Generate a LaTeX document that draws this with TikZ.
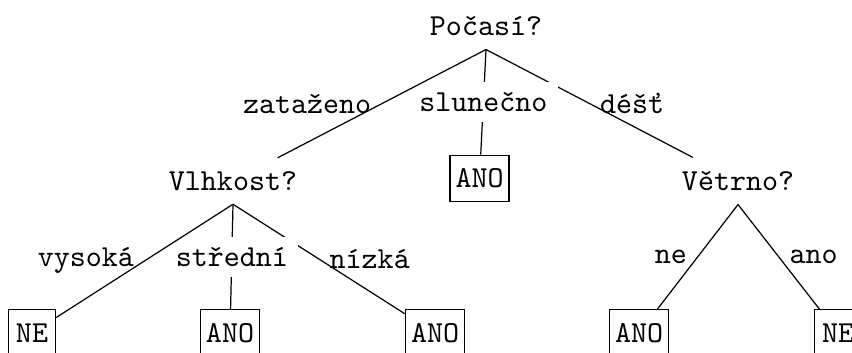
\documentclass[tikz,border=0pt]{standalone}
\begin{document}
\begin{tikzpicture}[x=0.328pt, y=-0.328pt,
    every node/.style={font=\ttfamily},
    test/.style={inner ysep=4.3pt},
    leaf/.style={draw, inner xsep=1.8pt, minimum width=15.5pt, minimum height=15.2pt}]
\useasboundingbox (0,0) rectangle (852,353);
%The questions first, then the answers in the boxes
% below them; the edges are drawn after all the nodes
\node[test] (pocasi) at (486,26) {Počasí?};
\node[test] (vlhkost) at (233,181) {Vlhkost?};
\node[test] (vetrno) at (738,181) {Větrno?};
\node[leaf] (a) at (479.5,178.5) {ANO};
\node[leaf] (b) at (32,333) {NE};
\node[leaf] (c) at (230,333) {ANO};
\node[leaf] (d) at (435,333) {ANO};
\node[leaf] (e) at (639,333) {ANO};
\node[leaf] (f) at (838,333) {NE};
% edges from right to left, so the white middle label
% covers the right edge but not the left one
\draw (pocasi.south) -- (vetrno) node[midway,right]{déšť};
\draw (pocasi.south) -- (a) node[midway,fill=white]{slunečno};
\draw (pocasi.south) -- (vlhkost) node[midway,left]{zataženo};
\draw (vlhkost.south) -- (d) node[midway,right]{nízká};
\draw (vlhkost.south) -- (c) node[midway,fill=white]{střední};
\draw (vlhkost.south) -- (b) node[midway,left]{vysoká};
\draw (vetrno.south) -- (f) node[midway,right]{ano};
\draw (vetrno.south) -- (e) node[midway,left]{ne};
\end{tikzpicture}
\end{document}
